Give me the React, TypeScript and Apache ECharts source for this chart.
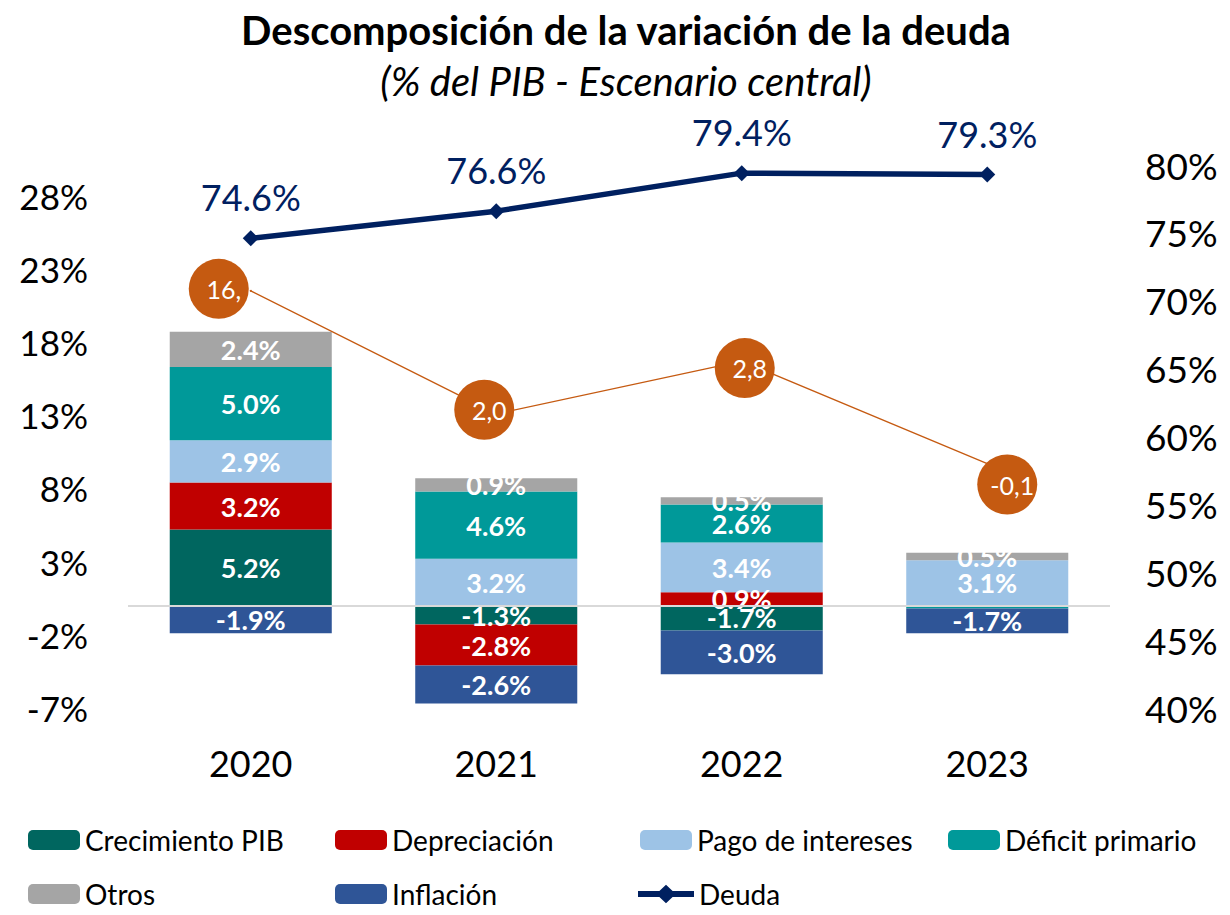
import React, { useEffect, useRef } from "react";
import * as echarts from "echarts";

const categories = ["2020", "2021", "2022", "2023"];
const crecimientoPIB = [5.2, -1.3, -1.7, 0];
const depreciacion = [3.2, -2.8, 0.9, -0.1];
const pagoIntereses = [2.9, 3.2, 3.4, 3.1];
const deficitPrimario = [5.0, 4.6, 2.6, -0.1];
const otros = [2.4, 0.9, 0.5, 0.5];
const inflacion = [-1.9, -2.6, -3.0, -1.7];
const deuda = [74.6, 76.6, 79.4, 79.3];
const variacion = [21.5, 13.1, 16.7, 9.7];
const variacionLabels = ["16,", "2,0", "2,8", "-0,1"];

const FONT = "Lato, 'Open Sans', sans-serif";
const circleOffsets = [[-32, -2], [-12, -4], [3, 7], [20, 21]];

const legendNames = ["Crecimiento PIB", "Depreciación", "Pago de intereses", "Déficit primario", "Otros", "Inflación", "Deuda"];
const legendLeft = [28, 335, 640, 948, 28, 335, 638];
const legendTop = [826, 826, 826, 826, 880, 880, 880];
const deudaIcon = "path://M0,7 L21,7 L27.5,1 L34,7 L55,7 L55,13 L34,13 L27.5,19 L21,13 L0,13 Z";

export default function App() {
  const ref = useRef<HTMLDivElement>(null);
  useEffect(() => {
    if (!ref.current) return;
    const chart = echarts.init(ref.current, undefined, { renderer: "svg" });
    const barLabel = {
      show: true,
      position: "inside" as const,
      color: "#fff",
      fontWeight: "bold" as const,
      fontSize: 27,
      fontFamily: FONT,
      formatter: (p: any) => (Math.abs(p.value) < 0.2 ? "" : p.value.toFixed(1) + "%"),
    };
    const bar = (name: string, data: number[], color: string, extra: any = {}) => ({
      name,
      type: "bar",
      stack: "total",
      barWidth: "66%",
      data,
      itemStyle: { color },
      label: barLabel,
      yAxisIndex: 0,
      ...extra,
    });
    const option: any = {
      animation: false,
      backgroundColor: "#fff",
      graphic: [
        {
          type: "text",
          x: 626,
          y: 30,
          style: {
            text: "Descomposición de la variación de la deuda",
            font: `bold 40px ${FONT}`,
            fill: "#000",
            align: "center",
            verticalAlign: "middle",
          },
        },
        {
          type: "text",
          x: 626,
          y: 81,
          style: {
            text: "(% del PIB - Escenario central)",
            font: `italic 40px ${FONT}`,
            fill: "#000",
            align: "center",
            verticalAlign: "middle",
          },
        },
      ],
      legend: legendNames.map((n, i) => ({
        data: i === 6 ? [{ name: n, icon: deudaIcon }] : [n],
        left: legendLeft[i],
        top: legendTop[i],
        padding: 0,
        itemWidth: i === 6 ? 56 : 52,
        itemHeight: 20,
        textStyle: { fontSize: 28, fontFamily: FONT, color: "#000" },
      })),
      grid: { left: 128, right: 120, top: 165, bottom: 207 },
      xAxis: {
        type: "category",
        data: categories,
        axisLine: { show: false },
        axisTick: { show: false },
        axisLabel: { fontSize: 36, fontFamily: FONT, color: "#000", margin: 37 },
      },
      yAxis: [
        {
          type: "value",
          min: -7,
          max: 30.1,
          interval: 5,
          splitLine: { show: false },
          axisLine: { show: false },
          axisTick: { show: false },
          axisLabel: {
            fontSize: 35,
            fontFamily: FONT,
            color: "#000",
            margin: 40,
            formatter: (v: number) => {
              const k = (v + 7) / 5;
              return Math.abs(k - Math.round(k)) > 0.01 ? "" : Math.round(v) + "%";
            },
          },
        },
        {
          type: "value",
          min: 40,
          max: 80,
          interval: 5,
          position: "right",
          splitLine: { show: false },
          axisLine: { show: false },
          axisTick: { show: false },
          axisLabel: { fontSize: 37, fontFamily: FONT, color: "#000", margin: 35, formatter: (v: number) => v + "%" },
        },
      ],
      series: [
        bar("Crecimiento PIB", crecimientoPIB, "#00665F", {
          markLine: {
            silent: true,
            symbol: "none",
            label: { show: false },
            lineStyle: { color: "#D9D9D9", width: 2, type: "solid" },
            data: [{ yAxis: 0 }],
          },
        }),
        bar("Depreciación", depreciacion, "#C00000"),
        bar("Pago de intereses", pagoIntereses, "#9DC3E6"),
        bar("Déficit primario", deficitPrimario, "#009999"),
        bar("Otros", otros, "#A5A5A5"),
        bar("Inflación", inflacion, "#2F5597"),
        {
          name: "Variación",
          type: "line",
          yAxisIndex: 0,
          data: variacion.map((v, i) => ({
            value: v,
            label: { offset: circleOffsets[i] },
          })),
          symbol: "circle",
          symbolSize: 2,
          showSymbol: true,
          itemStyle: { color: "#C55A11" },
          lineStyle: { color: "#C55A11", width: 1.3 },
          label: {
            show: true,
            position: "inside",
            formatter: (p: any) => variacionLabels[p.dataIndex],
            backgroundColor: "#C55A11",
            width: 50,
            height: 54,
            lineHeight: 54,
            padding: [6, 0, 0, 10],
            borderRadius: 30,
            align: "center",
            color: "#fff",
            fontSize: 25,
            fontFamily: FONT,
          },
          z: 3,
        },
        {
          name: "Deuda",
          type: "line",
          yAxisIndex: 1,
          data: deuda,
          symbol: "diamond",
          symbolSize: 16,
          itemStyle: { color: "#002060" },
          lineStyle: { color: "#002060", width: 5.5 },
          label: {
            show: true,
            position: "top",
            distance: 15,
            color: "#002060",
            fontSize: 36,
            fontFamily: FONT,
            formatter: (p: any) => p.value.toFixed(1) + "%",
          },
          z: 4,
        },
      ],
    };
    chart.setOption(option);
    return () => chart.dispose();
  }, []);
  return (
    <div
      ref={ref}
      style={{ position: "fixed", left: 0, top: 0, width: 1230, height: 915, background: "#fff" }}
    />
  );
}
